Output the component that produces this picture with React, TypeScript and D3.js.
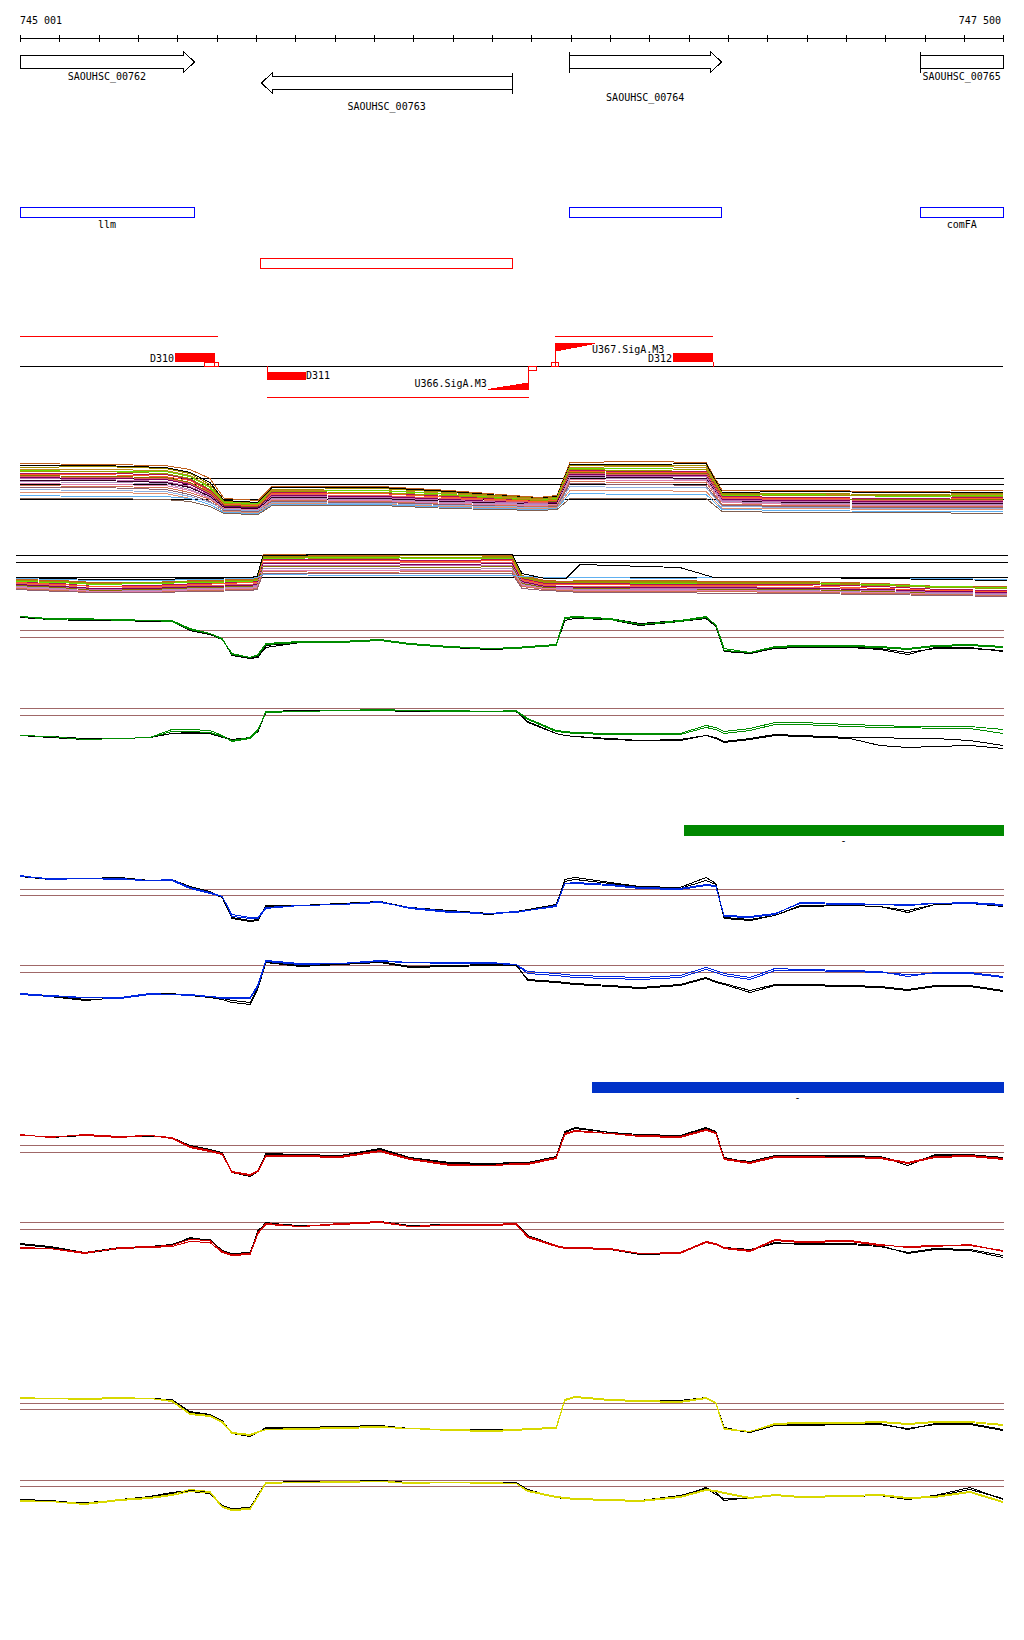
import React from 'react';
import * as d3 from 'd3';

// ---------- genomic window ----------
const START = 745001;
const END = 747500;
const TICK_STEP = 100;

// ---------- genes ----------
const GENE_NAMES = ['SAOUHSC_00762', 'SAOUHSC_00763', 'SAOUHSC_00764', 'SAOUHSC_00765'];
const GENE_STARTS = [744902, 745614, 746397, 747290];
const GENE_ENDS = [745443, 746252, 746784, 747760];
const GENE_STRANDS = [1, -1, 1, 1];

// ---------- operons ----------
const OPERON_NAMES = ['llm', '', 'comFA'];
const OPERON_STARTS = [745001, 746397, 747290];
const OPERON_ENDS = [745443, 746784, 747500];
const RED_BOX_STARTS = [745611];
const RED_BOX_ENDS = [746252];

// ---------- transcription annotation ----------
const TX_STARTS = [745001, 745629, 746361];
const TX_ENDS = [745504, 746295, 746763];
const TX_STRANDS = [1, -1, 1];
const TERM_NAMES = ['D310', 'D311', 'D312'];
const TERM_STARTS = [745395, 745629, 746661];
const TERM_ENDS = [745497, 745728, 746763];
const TERM_STRANDS = [1, -1, 1];
const CONNECT_POS = [745629, 746763];
const CONNECT_STRANDS = [-1, 1];
const SITE_STARTS = [745469, 745494, 746292, 746351];
const SITE_ENDS = [745494, 745504, 746313, 746369];
const SITE_STRANDS = [1, 1, -1, 1];
const PROM_NAMES = ['U366.SigA.M3', 'U367.SigA.M3'];
const PROM_POS = [746292, 746361];
const PROM_STRANDS = [-1, 1];
const PROM_LEN = 102;

// ---------- region bars ----------
const BAR_STARTS = [746689, 746455];
const BAR_ENDS = [747500, 747500];
const BAR_LABELS = ['-', '-'];

// ---------- multi-sample tracks (track 1 & 2) ----------
const T1_POS = [745001, 745204, 745370, 745433, 745484, 745520, 745606, 745642, 745916, 746094, 746320, 746366, 746399, 746577, 746745, 746786, 746984, 747238, 747500];
const T1_LINES = [
  [57, 56, 55, 51, 42, 22, 20, 34, 34, 30, 23, 25, 58, 59, 58, 30, 30, 29, 30],
  [55, 55, 53, 48, 38, 20, 18, 33, 33, 29, 22, 24, 56, 56, 57, 28, 29, 28, 28],
  [53, 54, 52, 47, 36, 19, 17, 31, 32, 28, 22, 23, 55, 55, 55, 27, 27, 26, 27],
  [51, 51, 50, 45, 34, 18, 16, 30, 30, 27, 21, 22, 53, 54, 53, 26, 26, 25, 26],
  [50, 49, 49, 44, 33, 18, 17, 29, 30, 26, 20, 22, 52, 52, 51, 25, 26, 24, 25],
  [49, 49, 47, 42, 31, 17, 15, 29, 28, 25, 20, 21, 51, 50, 51, 26, 25, 25, 24],
  [47, 47, 46, 41, 30, 16, 14, 28, 27, 24, 19, 20, 50, 49, 49, 24, 23, 22, 23],
  [46, 46, 44, 40, 29, 16, 15, 27, 27, 23, 19, 20, 49, 48, 48, 23, 22, 21, 22],
  [45, 44, 43, 38, 28, 15, 14, 26, 25, 22, 18, 19, 48, 47, 47, 22, 21, 21, 21],
  [44, 43, 42, 37, 27, 14, 13, 26, 25, 22, 18, 18, 47, 46, 46, 22, 21, 20, 20],
  [43, 42, 41, 36, 26, 14, 13, 25, 24, 21, 17, 18, 46, 45, 45, 21, 20, 19, 19],
  [42, 41, 39, 34, 25, 13, 12, 24, 23, 20, 17, 17, 45, 44, 44, 20, 19, 18, 18],
  [40, 40, 38, 33, 24, 13, 12, 23, 22, 19, 16, 17, 44, 43, 42, 19, 18, 17, 17],
  [39, 38, 37, 31, 23, 12, 11, 22, 21, 18, 16, 16, 43, 42, 41, 19, 17, 16, 16],
  [37, 36, 35, 30, 22, 12, 11, 21, 20, 17, 15, 16, 41, 40, 40, 18, 16, 15, 15],
  [35, 34, 33, 28, 21, 11, 10, 20, 19, 16, 14, 15, 39, 38, 38, 16, 15, 14, 14],
  [33, 33, 31, 26, 19, 10, 9, 19, 18, 16, 13, 14, 37, 36, 35, 15, 14, 13, 13],
  [31, 30, 29, 24, 18, 11, 10, 18, 17, 15, 13, 13, 34, 33, 33, 14, 13, 12, 12],
  [28, 28, 27, 22, 16, 9, 8, 17, 16, 14, 12, 13, 30, 30, 29, 12, 12, 11, 11],
  [25, 24, 24, 22, 16, 8, 7, 16, 16, 13, 11, 12, 27, 26, 26, 11, 10, 9, 9],
  [22, 22, 21, 19, 14, 7, 6, 15, 15, 12, 10, 11, 22, 22, 22, 9, 8, 8, 7],
];
const T1_COLORS = ['#c0601c', '#000000', '#a08c00', '#c08a20', '#66dd00', '#9a9a00', '#b0105a', '#ff5a2a', '#8a7000', '#e06060', '#800060', '#c070b0', '#300020', '#b090c0', '#e080b0', '#d07050', '#906070', '#90b0e0', '#e09070', '#60b0f0', '#806050'];
const T1_REFS = [42, 36, 21];

const T2_POS = [745001, 745112, 745200, 745339, 745465, 745591, 745609, 745624, 745843, 746095, 746252, 746277, 746335, 746388, 746423, 746675, 746761, 746978, 747180, 747331, 747500];
const T2_LINES = [
  [21, 20, 18, 18, 20, 21, 22, 46, 45, 46, 45, 25, 20, 19, 20, 20, 19, 19, 17, 14, 14],
  [20, 19, 17, 17, 19, 20, 21, 44, 44, 45, 44, 24, 19, 18, 19, 19, 18, 18, 16, 13, 13],
  [19, 18, 16, 17, 18, 19, 20, 42, 43, 42, 42, 23, 18, 18, 18, 17, 17, 17, 16, 14, 13],
  [18, 17, 14, 15, 17, 18, 19, 41, 41, 40, 41, 22, 17, 17, 17, 16, 16, 16, 14, 11, 10],
  [18, 16, 14, 14, 16, 18, 18, 40, 40, 39, 40, 21, 16, 16, 16, 15, 15, 15, 12, 10, 9],
  [17, 15, 12, 13, 15, 16, 17, 38, 38, 38, 38, 20, 15, 14, 14, 14, 14, 13, 11, 9, 8],
  [16, 14, 12, 12, 14, 15, 16, 37, 37, 36, 37, 19, 14, 14, 13, 13, 13, 12, 11, 9, 8],
  [15, 13, 11, 11, 13, 14, 15, 35, 35, 35, 35, 18, 13, 13, 12, 12, 12, 11, 10, 8, 7],
  [15, 13, 10, 11, 13, 14, 14, 34, 34, 33, 34, 17, 13, 12, 12, 11, 11, 11, 9, 7, 6],
  [14, 12, 9, 10, 12, 13, 14, 32, 32, 31, 32, 16, 12, 12, 11, 11, 10, 10, 8, 7, 6],
  [13, 11, 9, 9, 11, 12, 13, 30, 30, 30, 30, 15, 12, 11, 10, 10, 10, 9, 8, 6, 5],
  [12, 10, 8, 8, 10, 11, 12, 29, 28, 29, 29, 14, 11, 10, 9, 9, 9, 8, 7, 6, 5],
  [11, 9, 8, 8, 9, 10, 11, 27, 27, 27, 27, 12, 10, 9, 8, 8, 7, 7, 6, 5, 4],
  [20, 19, 17, 18, 19, 20, 21, 43, 42, 43, 43, 23, 18, 18, 18, 18, 17, 17, 15, 13, 12],
  [22, 21, 20, 20, 21, 22, 23, 26, 25, 25, 25, 24, 23, 23, 23, 22, 23, 23, 22, 22, 21],
  [23, 22, 21, 21, 22, 23, 24, 45, 46, 46, 46, 27, 22, 22, 36, 33, 23, 23, 22, 21, 20],
];
const T2_COLORS = ['#c0601c', '#a08c00', '#66dd00', '#b0105a', '#ff5a2a', '#e06060', '#800060', '#c070b0', '#8a7000', '#b090c0', '#e080b0', '#d07050', '#906070', '#9a9a00', '#60b0f0', '#000000'];
const T2_REFS = [45, 38, 23];

// ---------- paired-sample tracks (tracks 3 - 10) ----------
const POS = [745001, 745077, 745166, 745255, 745331, 745387, 745433, 745484, 745515, 745540,
  745586, 745606, 745626, 745713, 745815, 745916, 745992, 746094, 746196, 746262,
  746292, 746364, 746386, 746412, 746501, 746577, 746679, 746745, 746770, 746791,
  746857, 746920, 746984, 747111, 747187, 747258, 747327, 747416, 747500];

const T3_A = [44, 42, 41, 41, 40, 40, 32, 27, 22, 6, 3, 6, 17, 19, 19, 21, 17, 14, 12, 13, 14, 16, 43, 44, 42, 36, 40, 44, 35, 10, 8, 14, 15, 15, 14, 12, 15, 16, 14];
const T3_B = [44, 41, 42, 40, 40, 39, 31, 27, 21, 7, 3, 5, 16, 18, 18, 20, 16, 13, 12, 12, 13, 15, 42, 43, 41, 36, 39, 43, 36, 12, 8, 13, 14, 14, 13, 11, 14, 15, 13];
const T3_C = [43, 41, 40, 40, 39, 39, 30, 26, 21, 6, 2, 4, 13, 18, 18, 20, 17, 13, 11, 12, 13, 15, 40, 42, 41, 35, 39, 42, 34, 9, 7, 12, 13, 13, 12, 8, 12, 12, 10];
const T3_D = [44, 42, 41, 41, 40, 40, 31, 27, 22, 5, 2, 3, 15, 18, 19, 21, 17, 14, 12, 13, 14, 15, 42, 43, 42, 37, 40, 43, 35, 10, 7, 13, 14, 13, 11, 6, 13, 13, 9];

const T4_A = [25, 24, 21, 22, 23, 31, 31, 30, 25, 19, 22, 30, 49, 49, 50, 51, 50, 50, 49, 50, 42, 30, 29, 28, 27, 27, 27, 35, 33, 29, 32, 38, 38, 36, 35, 34, 34, 34, 31];
const T4_B = [25, 24, 21, 22, 23, 29, 29, 28, 24, 20, 23, 31, 48, 49, 50, 50, 50, 49, 49, 49, 41, 29, 28, 27, 26, 26, 26, 33, 31, 27, 30, 36, 36, 34, 33, 33, 32, 32, 27];
const T4_C = [25, 23, 21, 22, 23, 27, 27, 27, 23, 21, 23, 30, 49, 50, 50, 51, 50, 50, 49, 50, 38, 27, 25, 24, 22, 20, 20, 25, 23, 19, 22, 26, 25, 23, 23, 22, 22, 20, 15];
const T4_D = [25, 24, 22, 22, 23, 27, 28, 27, 24, 21, 22, 29, 48, 49, 50, 50, 49, 49, 49, 49, 39, 27, 25, 24, 21, 20, 21, 25, 22, 18, 21, 25, 24, 22, 15, 13, 14, 15, 12];

const T5_A = [54, 52, 52, 52, 50, 51, 43, 38, 34, 14, 12, 12, 22, 25, 26, 28, 23, 19, 17, 19, 20, 25, 47, 48, 46, 43, 42, 46, 45, 14, 13, 16, 28, 27, 26, 26, 27, 28, 26];
const T5_B = [55, 51, 52, 51, 50, 50, 42, 37, 34, 16, 13, 13, 23, 25, 26, 29, 22, 18, 17, 18, 20, 24, 47, 47, 45, 42, 41, 45, 44, 15, 14, 17, 27, 26, 26, 25, 27, 27, 25];
const T5_C = [54, 51, 52, 53, 50, 51, 43, 38, 33, 12, 9, 10, 25, 25, 27, 29, 22, 19, 16, 19, 20, 25, 51, 53, 48, 44, 43, 53, 47, 13, 11, 15, 24, 25, 24, 18, 26, 27, 24];
const T5_D = [54, 52, 52, 52, 50, 51, 44, 39, 33, 13, 10, 11, 24, 25, 26, 29, 23, 20, 17, 19, 21, 26, 49, 51, 47, 43, 42, 50, 46, 12, 10, 15, 25, 25, 24, 20, 26, 27, 25];

const T6_A = [17, 15, 13, 13, 17, 16, 16, 14, 13, 13, 13, 26, 50, 47, 47, 50, 48, 48, 48, 46, 39, 37, 36, 35, 34, 33, 35, 43, 40, 37, 33, 42, 41, 40, 39, 34, 38, 38, 34];
const T6_B = [16, 14, 13, 12, 16, 16, 15, 14, 12, 12, 12, 24, 49, 46, 47, 49, 48, 47, 47, 46, 37, 35, 34, 33, 32, 31, 33, 41, 38, 35, 31, 40, 40, 39, 38, 36, 37, 37, 33];
const T6_C = [17, 14, 10, 13, 17, 16, 16, 13, 11, 8, 6, 22, 48, 44, 46, 48, 43, 44, 45, 46, 30, 28, 27, 26, 24, 22, 25, 32, 28, 26, 18, 25, 25, 24, 23, 20, 24, 24, 19];
const T6_D = [17, 15, 11, 12, 16, 17, 15, 13, 12, 10, 8, 23, 48, 45, 47, 49, 44, 45, 46, 45, 31, 29, 28, 27, 25, 23, 26, 33, 29, 27, 20, 26, 26, 25, 24, 21, 25, 25, 20];

const T7_A = [56, 53, 56, 54, 55, 53, 44, 40, 37, 19, 16, 20, 35, 35, 34, 40, 32, 26, 25, 27, 27, 33, 57, 60, 57, 55, 54, 61, 58, 32, 28, 34, 34, 33, 33, 28, 34, 35, 32];
const T7_B = [55, 54, 55, 53, 55, 52, 43, 39, 36, 18, 15, 19, 34, 34, 33, 39, 31, 25, 25, 26, 26, 32, 56, 59, 57, 54, 53, 60, 57, 31, 27, 33, 33, 33, 32, 27, 33, 34, 31];
const T7_C = [56, 53, 56, 54, 55, 53, 45, 41, 38, 18, 14, 19, 37, 36, 35, 42, 33, 28, 27, 28, 28, 34, 59, 63, 58, 56, 55, 63, 59, 33, 28, 35, 35, 35, 34, 25, 36, 36, 33];
const T7_D = [56, 53, 55, 54, 54, 53, 44, 40, 37, 19, 15, 20, 36, 36, 35, 41, 33, 27, 26, 27, 27, 33, 58, 62, 58, 56, 55, 62, 59, 32, 29, 35, 34, 34, 34, 27, 35, 36, 32];

const T8_A = [22, 22, 17, 23, 24, 25, 31, 30, 19, 16, 17, 38, 47, 44, 47, 49, 44, 46, 46, 47, 34, 25, 23, 23, 22, 17, 18, 29, 27, 23, 20, 31, 29, 30, 26, 23, 24, 26, 19];
const T8_B = [23, 22, 18, 22, 23, 24, 29, 28, 18, 15, 16, 37, 46, 44, 46, 48, 44, 45, 45, 46, 33, 24, 22, 22, 21, 17, 17, 28, 26, 22, 19, 30, 28, 29, 25, 24, 25, 25, 20];
const T8_C = [27, 24, 18, 23, 24, 25, 33, 30, 19, 16, 17, 40, 47, 45, 46, 49, 45, 46, 46, 47, 35, 25, 23, 23, 22, 17, 18, 29, 27, 23, 21, 27, 27, 27, 25, 17, 21, 20, 13];
const T8_D = [26, 23, 17, 22, 24, 26, 32, 31, 20, 17, 18, 39, 48, 44, 47, 48, 44, 46, 45, 46, 34, 24, 23, 22, 21, 16, 17, 28, 26, 22, 20, 28, 26, 26, 24, 18, 22, 21, 15];

const T9_A = [43, 42, 42, 43, 42, 40, 27, 25, 19, 8, 6, 9, 11, 12, 13, 14, 12, 11, 10, 11, 12, 13, 41, 44, 41, 40, 39, 43, 38, 12, 9, 17, 18, 18, 19, 17, 19, 19, 16];
const T9_B = [42, 42, 41, 42, 42, 39, 26, 24, 18, 7, 5, 8, 11, 11, 12, 13, 12, 10, 9, 10, 11, 12, 40, 43, 40, 39, 38, 42, 37, 11, 9, 16, 17, 17, 18, 16, 18, 18, 15];
const T9_C = [43, 42, 42, 43, 42, 41, 29, 26, 20, 7, 5, 8, 13, 13, 14, 15, 12, 11, 11, 11, 12, 13, 41, 43, 41, 40, 39, 43, 38, 12, 8, 15, 16, 16, 17, 11, 17, 17, 11];
const T9_D = [43, 42, 42, 42, 42, 40, 28, 26, 20, 7, 4, 8, 12, 12, 13, 15, 12, 11, 10, 11, 12, 13, 41, 44, 41, 40, 40, 43, 38, 13, 8, 15, 15, 16, 16, 12, 16, 16, 10];

const T10_A = [20, 19, 17, 21, 23, 26, 31, 29, 14, 11, 12, 25, 38, 38, 39, 39, 38, 38, 38, 37, 30, 24, 23, 22, 21, 20, 24, 31, 30, 28, 23, 26, 24, 25, 26, 23, 24, 29, 19];
const T10_B = [19, 19, 16, 20, 22, 25, 29, 28, 13, 10, 11, 24, 37, 38, 38, 39, 37, 38, 37, 37, 29, 23, 22, 21, 20, 19, 23, 30, 29, 27, 22, 25, 23, 24, 25, 22, 23, 28, 18];
const T10_C = [21, 20, 17, 21, 24, 28, 30, 28, 15, 12, 12, 26, 38, 38, 39, 40, 38, 38, 38, 38, 31, 23, 22, 22, 21, 20, 24, 33, 28, 20, 23, 26, 24, 25, 26, 22, 25, 33, 21];
const T10_D = [20, 19, 18, 20, 24, 27, 29, 27, 15, 12, 13, 25, 38, 39, 39, 39, 38, 38, 38, 37, 30, 24, 23, 22, 21, 20, 25, 32, 26, 22, 22, 25, 24, 24, 25, 21, 24, 31, 22];

const THRESHOLDS = [[30, 23], [52, 45], [41, 35], [45, 38], [45, 38], [48, 41], [37, 31], [40, 34]];

// ---------- layout ----------
const W = 1024;
const H = 1640;
const X0 = 20;
const X1 = 1003;
const FONT = "'DejaVu Sans Mono', monospace";
const GENE_LABEL_Y = [80, 110, 101, 80];
const TRACK_BASES = [660, 760, 930, 1010, 1190, 1270, 1440, 1520];
const PAIR_COLORS = ['#008c00', '#0028e0', '#d00000', '#d8d800'];
const BAR_COLORS = ['#008800', '#0032c8'];
const BAR_Y = [825, 1082];

const x = d3.scaleLinear().domain([START, END]).range([X0, X1]);
const xWide = d3.scaleLinear().domain([START, END]).range([16, 1007]);
const fmt = d3.formatLocale({ decimal: '.', thousands: ' ', grouping: [3], currency: ['', ''] }).format(',');

const px = (v: number) => Math.round(v) + 0.5;

function Ruler() {
  const ticks = d3.range(START, END, TICK_STEP).concat([END]);
  return (
    <g>
      <text x={X0} y={24} fontFamily={FONT} fontSize={10}>{fmt(START)}</text>
      <text x={X1 - 2} y={24} fontFamily={FONT} fontSize={10} textAnchor="end">{fmt(END)}</text>
      <line x1={X0} x2={X1} y1={38.5} y2={38.5} stroke="#000" />
      {ticks.map((t) => (
        <line key={t} x1={px(x(t))} x2={px(x(t))} y1={35} y2={42} stroke="#000" />
      ))}
    </g>
  );
}

function Genes() {
  const h = 11;
  return (
    <g>
      {GENE_NAMES.map((name, i) => {
        const s = Math.max(GENE_STARTS[i], START);
        const e = Math.min(GENE_ENDS[i], END);
        const strand = GENE_STRANDS[i];
        const top = strand > 0 ? 55.5 : 76.5;
        const bot = top + 13;
        const mid = (top + bot) / 2;
        const xa = px(x(s));
        const xb = px(x(e));
        let d = '';
        let bar: number | null = null;
        if (strand > 0) {
          const headVisible = GENE_ENDS[i] <= END;
          if (headVisible) {
            d = `M${xa},${top}L${xb - h},${top}L${xb - h},${top - 4}L${xb},${mid}L${xb - h},${bot + 4}L${xb - h},${bot}L${xa},${bot}Z`;
          } else {
            d = `M${xa},${top}L${xb},${top}L${xb},${bot}L${xa},${bot}Z`;
          }
          if (GENE_STARTS[i] >= START) bar = xa;
        } else {
          d = `M${xb},${top}L${xa + h},${top}L${xa + h},${top - 4}L${xa},${mid}L${xa + h},${bot + 4}L${xa + h},${bot}L${xb},${bot}Z`;
          if (GENE_ENDS[i] <= END) bar = xb;
        }
        return (
          <g key={name}>
            <path d={d} fill="#fff" stroke="#000" strokeWidth={1} shapeRendering="crispEdges" />
            {bar !== null && (
              <line x1={bar} x2={bar} y1={top - 4} y2={bot + 4} stroke="#000" shapeRendering="crispEdges" />
            )}
            <text x={(x(s) + x(e)) / 2} y={GENE_LABEL_Y[i]} fontFamily={FONT} fontSize={10} textAnchor="middle">{name}</text>
          </g>
        );
      })}
    </g>
  );
}

function Operons() {
  return (
    <g>
      {OPERON_NAMES.map((name, i) => (
        <g key={i}>
          <rect x={px(x(OPERON_STARTS[i]))} y={207.5} width={Math.round(x(OPERON_ENDS[i]) - x(OPERON_STARTS[i]))} height={10}
            fill="none" stroke="#0000ff" shapeRendering="crispEdges" />
          {name && (
            <text x={(x(OPERON_STARTS[i]) + x(OPERON_ENDS[i])) / 2} y={228} fontFamily={FONT} fontSize={10} textAnchor="middle">{name}</text>
          )}
        </g>
      ))}
      {RED_BOX_STARTS.map((s, i) => (
        <rect key={i} x={px(x(s))} y={258.5} width={Math.round(x(RED_BOX_ENDS[i]) - x(s))} height={10}
          fill="none" stroke="#ff0000" shapeRendering="crispEdges" />
      ))}
    </g>
  );
}

function Annotation() {
  const axisY = 366.5;
  const red = '#ff0000';
  return (
    <g shapeRendering="crispEdges">
      {TX_STARTS.map((s, i) => {
        const y = TX_STRANDS[i] > 0 ? 336.5 : 397.5;
        return <line key={'tx' + i} x1={x(s)} x2={x(TX_ENDS[i])} y1={y} y2={y} stroke={red} />;
      })}
      <line x1={X0} x2={X1} y1={axisY} y2={axisY} stroke="#000" />
      {TERM_NAMES.map((name, i) => {
        const plus = TERM_STRANDS[i] > 0;
        const xa = Math.round(x(TERM_STARTS[i]));
        const xb = Math.round(x(TERM_ENDS[i]));
        const y = plus ? 353 : 372;
        return (
          <g key={name}>
            <rect x={xa} y={y} width={xb - xa} height={plus ? 9 : 8} fill={red} />
            {plus ? (
              <text x={xa - 1} y={362} fontFamily={FONT} fontSize={10} textAnchor="end">{name}</text>
            ) : (
              <text x={xb} y={379} fontFamily={FONT} fontSize={10}>{name}</text>
            )}
          </g>
        );
      })}
      {CONNECT_POS.map((p, i) => {
        const xx = px(x(p));
        return CONNECT_STRANDS[i] > 0
          ? <line key={'c' + i} x1={xx} x2={xx} y1={362} y2={367} stroke={red} />
          : <line key={'c' + i} x1={xx} x2={xx} y1={366} y2={372} stroke={red} />;
      })}
      {SITE_STARTS.map((s, i) => {
        const xa = px(x(s));
        const w = Math.max(3, Math.round(x(SITE_ENDS[i]) - x(s)));
        const y = SITE_STRANDS[i] > 0 ? 362.5 : 366.5;
        return <rect key={'s' + i} x={xa} y={y} width={w} height={4} fill="none" stroke={red} />;
      })}
      {PROM_NAMES.map((name, i) => {
        const xt = px(x(PROM_POS[i]));
        if (PROM_STRANDS[i] < 0) {
          const xl = x(PROM_POS[i] - PROM_LEN);
          return (
            <g key={name}>
              <line x1={xt} x2={xt} y1={366} y2={389} stroke={red} />
              <path d={`M${xl},389.5L${xt},389.5L${xt},383Z`} fill={red} stroke={red} strokeWidth={1} />
              <text x={xl - 1} y={387} fontFamily={FONT} fontSize={10} textAnchor="end">{name}</text>
            </g>
          );
        }
        const xr = x(PROM_POS[i] + PROM_LEN);
        return (
          <g key={name}>
            <line x1={xt} x2={xt} y1={343} y2={366} stroke={red} />
            <path d={`M${xt},343.5L${xr},343.5L${xt},351Z`} fill={red} stroke={red} strokeWidth={1} />
            <text x={xr - 3} y={353} fontFamily={FONT} fontSize={10}>{name}</text>
          </g>
        );
      })}
    </g>
  );
}

function MultiTrack({ pos, lines, colors, refs, base, xs, refX }: any) {
  const y = d3.scaleLinear().domain([0, 60]).range([base + 0.5, base - 60 + 0.5]);
  const line = d3.line<number>().x((_, i) => xs(pos[i])).y((d) => y(d));
  return (
    <g>
      {refs.map((r: number, i: number) => (
        <line key={i} x1={refX[0]} x2={refX[1]} y1={y(r)} y2={y(r)} stroke="#000" shapeRendering="crispEdges" />
      ))}
      {lines.map((vals: number[], i: number) => (
        <path key={i} d={line(vals) || ''} fill="none" stroke={colors[i]} strokeWidth={1} shapeRendering="crispEdges" />
      ))}
    </g>
  );
}

const PAIR_TRACKS = [
  [T3_A, T3_B, T3_C, T3_D],
  [T4_A, T4_B, T4_C, T4_D],
  [T5_A, T5_B, T5_C, T5_D],
  [T6_A, T6_B, T6_C, T6_D],
  [T7_A, T7_B, T7_C, T7_D],
  [T8_A, T8_B, T8_C, T8_D],
  [T9_A, T9_B, T9_C, T9_D],
  [T10_A, T10_B, T10_C, T10_D],
];

function PairTrack({ series, base, color, refs }: any) {
  const y = d3.scaleLinear().domain([0, 60]).range([base + 0.5, base - 60 + 0.5]);
  const line = d3.line<number>().x((_, i) => x(POS[i])).y((d) => y(d));
  const order = [2, 3, 0, 1];
  return (
    <g>
      {refs.map((r: number, i: number) => (
        <line key={i} x1={X0} x2={X1 + 1} y1={y(r)} y2={y(r)} stroke="#a06868" shapeRendering="crispEdges" />
      ))}
      {order.map((k) => (
        <path key={k} d={line(series[k]) || ''} fill="none" stroke={k < 2 ? color : '#000'} strokeWidth={1} shapeRendering="crispEdges" />
      ))}
    </g>
  );
}

function Bars() {
  return (
    <g>
      {BAR_STARTS.map((s, i) => (
        <g key={i}>
          <rect x={Math.round(x(s))} y={BAR_Y[i]} width={Math.round(x(BAR_ENDS[i]) - x(s)) + 1} height={11} fill={BAR_COLORS[i]} shapeRendering="crispEdges" />
          <text x={(x(s) + x(BAR_ENDS[i])) / 2} y={BAR_Y[i] + 19} fontFamily={FONT} fontSize={10} textAnchor="middle">{BAR_LABELS[i]}</text>
        </g>
      ))}
    </g>
  );
}

export default function App() {
  return (
    <svg width={W} height={H} viewBox={`0 0 ${W} ${H}`} style={{ position: 'absolute', left: 0, top: 0, display: 'block', background: '#fff' }}>
      <rect x={0} y={0} width={W} height={H} fill="#fff" />
      <Ruler />
      <Genes />
      <Operons />
      <Annotation />
      <MultiTrack pos={T1_POS} lines={T1_LINES} colors={T1_COLORS} refs={T1_REFS} base={520} xs={x} refX={[X0, X1 + 1]} />
      <MultiTrack pos={T2_POS} lines={T2_LINES} colors={T2_COLORS} refs={T2_REFS} base={600} xs={xWide} refX={[16, 1008]} />
      {PAIR_TRACKS.map((series, i) => (
        <PairTrack key={i} series={series} base={TRACK_BASES[i]} color={PAIR_COLORS[Math.floor(i / 2)]} refs={THRESHOLDS[i]} />
      ))}
      <Bars />
    </svg>
  );
}
